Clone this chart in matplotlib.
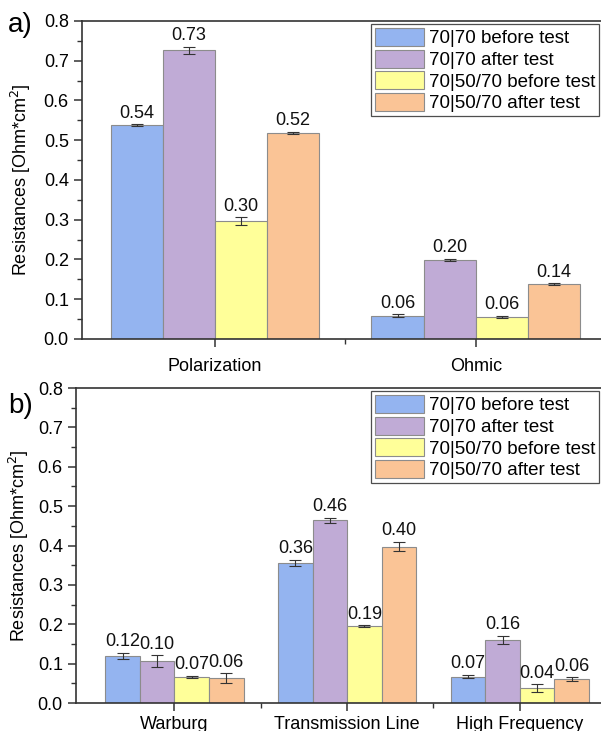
import numpy as np
import matplotlib
matplotlib.use('Agg')
import matplotlib.pyplot as plt
from matplotlib.ticker import MultipleLocator, FixedLocator

plt.rcParams['font.family'] = ['Liberation Sans', 'DejaVu Sans']

# legend / series
series = ['70|70 before test', '70|70 after test',
          '70|50/70 before test', '70|50/70 after test']
colors = ['#94B4F0', '#C0ABD6', '#FFFF99', '#FAC496']

# panel a
cats_a = ['Polarization', 'Ohmic']
vals_a = [[0.538, 0.059],
          [0.726, 0.198],
          [0.296, 0.056],
          [0.518, 0.138]]
errs_a = [[0.002, 0.003],
          [0.008, 0.003],
          [0.010, 0.002],
          [0.003, 0.002]]
labs_a = [['0.54', '0.06'],
          ['0.73', '0.20'],
          ['0.30', '0.06'],
          ['0.52', '0.14']]

# panel b
cats_b = ['Warburg', 'Transmission Line', 'High Frequency']
vals_b = [[0.120, 0.356, 0.067],
          [0.106, 0.464, 0.160],
          [0.066, 0.195, 0.037],
          [0.063, 0.397, 0.060]]
errs_b = [[0.008, 0.007, 0.004],
          [0.015, 0.007, 0.011],
          [0.002, 0.002, 0.010],
          [0.012, 0.012, 0.005]]
labs_b = [['0.12', '0.36', '0.07'],
          ['0.10', '0.46', '0.16'],
          ['0.07', '0.19', '0.04'],
          ['0.06', '0.40', '0.06']]

YLABEL = 'Resistances [Ohm*cm$^2$]'


def draw_panel(ax, cats, vals, errs, labs, xlim, xpad):
    x = np.arange(len(cats))
    w = 0.2
    for i in range(len(series)):
        xs = x + (i - 1.5) * w
        ax.bar(xs, vals[i], w, color=colors[i], edgecolor='#8c8c8c',
               linewidth=0.8, label=series[i], zorder=2)
        ax.errorbar(xs, vals[i], yerr=errs[i], fmt='none', ecolor='#333333',
                    elinewidth=0.8, capsize=4, capthick=0.8, zorder=3)
        for xx, v, e, t in zip(xs, vals[i], errs[i], labs[i]):
            ax.text(xx, v + e + 0.007, t, ha='center', va='bottom',
                    fontsize=13, color='#111111')
    ax.set_xlim(*xlim)
    ax.set_ylim(0, 0.8)
    ax.set_xticks(x)
    ax.set_xticklabels(cats, fontsize=13)
    ax.xaxis.set_minor_locator(FixedLocator(x[:-1] + 0.5))
    ax.yaxis.set_major_locator(MultipleLocator(0.1))
    ax.yaxis.set_minor_locator(MultipleLocator(0.05))
    ax.yaxis.set_major_formatter(matplotlib.ticker.FormatStrFormatter('%.1f'))
    ax.tick_params(axis='both', which='major', direction='out', length=6,
                   width=1.1, labelsize=13, color='#333333')
    ax.tick_params(axis='both', which='minor', direction='out', length=3.5,
                   width=1.0, color='#333333')
    ax.tick_params(axis='x', which='major', pad=xpad)
    for s in ['left', 'bottom', 'top']:
        ax.spines[s].set_linewidth(1.2)
        ax.spines[s].set_color('#333333')
    ax.spines['right'].set_visible(False)
    ax.set_ylabel(YLABEL, fontsize=13)
    leg = ax.legend(loc='upper right', bbox_to_anchor=(0.997, 0.99),
                    fontsize=13.5, frameon=True, fancybox=False,
                    edgecolor='#222222', handlelength=2.6, handleheight=1.1,
                    handletextpad=0.3, labelspacing=0.12, borderpad=0.2,
                    borderaxespad=0)
    leg.get_frame().set_linewidth(0.9)
    return ax


fig = plt.figure(figsize=(6.01, 7.31), dpi=100)

ax1 = fig.add_axes([0.1364, 0.5363, 0.8636, 0.4350])
draw_panel(ax1, cats_a, vals_a, errs_a, labs_a, (-0.51, 1.48), 8)
ax1.yaxis.set_label_coords(-0.095, 0.5)

ax2 = fig.add_axes([0.1265, 0.0383, 0.8735, 0.4309])
draw_panel(ax2, cats_b, vals_b, errs_b, labs_b, (-0.57, 2.47), 3)
ax2.yaxis.set_label_coords(-0.085, 0.5)

fig.text(0.013, 0.966, 'a)', fontsize=20, va='center', ha='left')
fig.text(0.013, 0.445, 'b)', fontsize=20, va='center', ha='left')

fig.savefig('out.png', dpi=100)
